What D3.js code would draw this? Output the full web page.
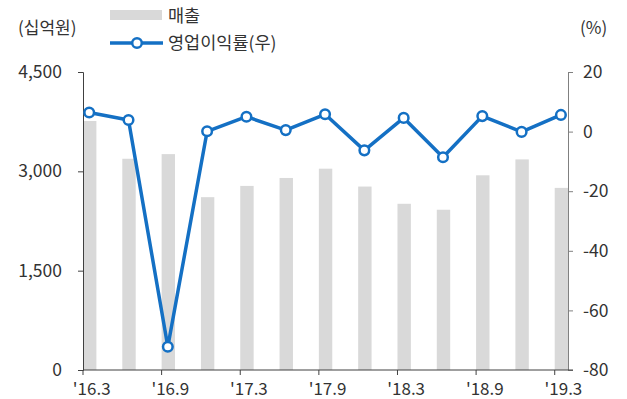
<!DOCTYPE html>
<html>
<head>
<meta charset="utf-8">
<script src="https://cdn.jsdelivr.net/npm/d3@7"></script>
<style>
  body { margin: 0; background: #fff; }
  text { font-family: "Noto Sans CJK KR", "Noto Sans", sans-serif; fill: #333; }
</style>
</head>
<body>
<div id="chart"></div>
<script>
const quarters = ["16.3", "16.6", "16.9", "16.12", "17.3", "17.6", "17.9", "17.12", "18.3", "18.6", "18.9", "18.12", "19.3"];
const sales = [3760, 3190, 3260, 2610, 2780, 2900, 3040, 2770, 2510, 2420, 2940, 3180, 2750];
const opMargin = [6.4, 3.9, -72.2, 0.1, 5.0, 0.5, 5.8, -6.3, 4.6, -8.6, 5.2, -0.1, 5.6];
const leftTicks = [0, 1500, 3000, 4500];
const rightTicks = [-80, -60, -40, -20, 0, 20];
const tickLabels = ["'16.3", "'16.9", "'17.3", "'17.9", "'18.3", "'18.9", "'19.3"];

const width = 627, height = 399;
const margin = { top: 72, right: 59, bottom: 29, left: 83 };

const svg = d3.select("#chart").append("svg")
  .attr("width", width)
  .attr("height", height);

const step = 39.31;
const x = d3.scaleBand()
  .domain(quarters)
  .range([margin.left, margin.left + step * quarters.length])
  .padding(0);
const barW = 13.4;

const yL = d3.scaleLinear().domain([0, 4500]).range([height - margin.bottom, margin.top]);
const yR = d3.scaleLinear().domain([-80, 20]).range([height - margin.bottom, margin.top]);
const plotRight = width - margin.right;

// bars
svg.selectAll(".bar")
  .data(quarters)
  .enter()
  .append("rect")
  .attr("class", "bar")
  .attr("x", d => x(d))
  .attr("y", (d, i) => yL(sales[i]))
  .attr("width", barW)
  .attr("height", (d, i) => yL(0) - yL(sales[i]))
  .attr("fill", "#d9d9d9");

// left axis
const gl = svg.append("g")
  .attr("transform", `translate(${margin.left},0)`)
  .call(d3.axisLeft(yL).tickValues(leftTicks).tickFormat(d3.format(",")).tickSize(5).tickPadding(16));
gl.select(".domain").attr("stroke", "#404040");
gl.selectAll(".tick line").attr("stroke", "#404040");
gl.selectAll("text").style("font-size", "17.5px").attr("fill", "#333");

// right axis (plain hyphen for negatives)
const gr = svg.append("g")
  .attr("transform", `translate(${plotRight},0)`)
  .call(d3.axisRight(yR).tickValues(rightTicks).tickFormat(d => String(d)).tickSize(5).tickPadding(10));
gr.select(".domain").attr("stroke", "#808080");
gr.selectAll(".tick line").attr("stroke", "#808080");
gr.selectAll("text").style("font-size", "17.5px").attr("fill", "#333");

// bottom axis
const evenQ = quarters.filter((d, i) => i % 2 === 0);
const gb = svg.append("g")
  .attr("transform", `translate(0,${yL(0)})`);
gb.append("line")
  .attr("x1", margin.left).attr("x2", plotRight + 5)
  .attr("stroke", "#404040");
gb.selectAll(".xt")
  .data(evenQ)
  .enter()
  .append("line")
  .attr("class", "xt")
  .attr("x1", d => x(d)).attr("x2", d => x(d))
  .attr("y1", 0).attr("y2", 5)
  .attr("stroke", "#404040");
gb.selectAll(".xl")
  .data(evenQ)
  .enter()
  .append("text")
  .attr("class", "xl")
  .attr("x", d => x(d) + barW / 2 + 2)
  .attr("y", 25)
  .attr("text-anchor", "middle")
  .style("font-size", "17px")
  .text((d, i) => tickLabels[i]);

// line
const line = d3.line()
  .x((d, i) => x(quarters[i]) + barW / 2 - 0.5)
  .y(d => yR(d));
svg.append("path")
  .datum(opMargin)
  .attr("d", line)
  .attr("fill", "none")
  .attr("stroke", "#1470c4")
  .attr("stroke-width", 3.5)
  .attr("stroke-linejoin", "round");
svg.selectAll(".pt")
  .data(opMargin)
  .enter()
  .append("circle")
  .attr("class", "pt")
  .attr("cx", (d, i) => x(quarters[i]) + barW / 2 - 0.5)
  .attr("cy", d => yR(d))
  .attr("r", 4.8)
  .attr("fill", "#fff")
  .attr("stroke", "#1470c4")
  .attr("stroke-width", 2.5);

// unit labels
svg.append("text").attr("x", 18).attr("y", 34).style("font-size", "17px").text("(십억원)");
svg.append("text").attr("x", 580).attr("y", 34).style("font-size", "17px").text("(%)");

// legend
svg.append("rect").attr("x", 110).attr("y", 10).attr("width", 52).attr("height", 10).attr("fill", "#d9d9d9");
svg.append("text").attr("x", 168).attr("y", 22).style("font-size", "17.5px").text("매출");
svg.append("line").attr("x1", 110).attr("x2", 163).attr("y1", 43).attr("y2", 43)
  .attr("stroke", "#1470c4").attr("stroke-width", 3.5);
svg.append("circle").attr("cx", 137).attr("cy", 43).attr("r", 4.8)
  .attr("fill", "#fff").attr("stroke", "#1470c4").attr("stroke-width", 2.5);
svg.append("text").attr("x", 168).attr("y", 49).style("font-size", "17.5px").text("영업이익률(우)");
</script>
</body>
</html>
